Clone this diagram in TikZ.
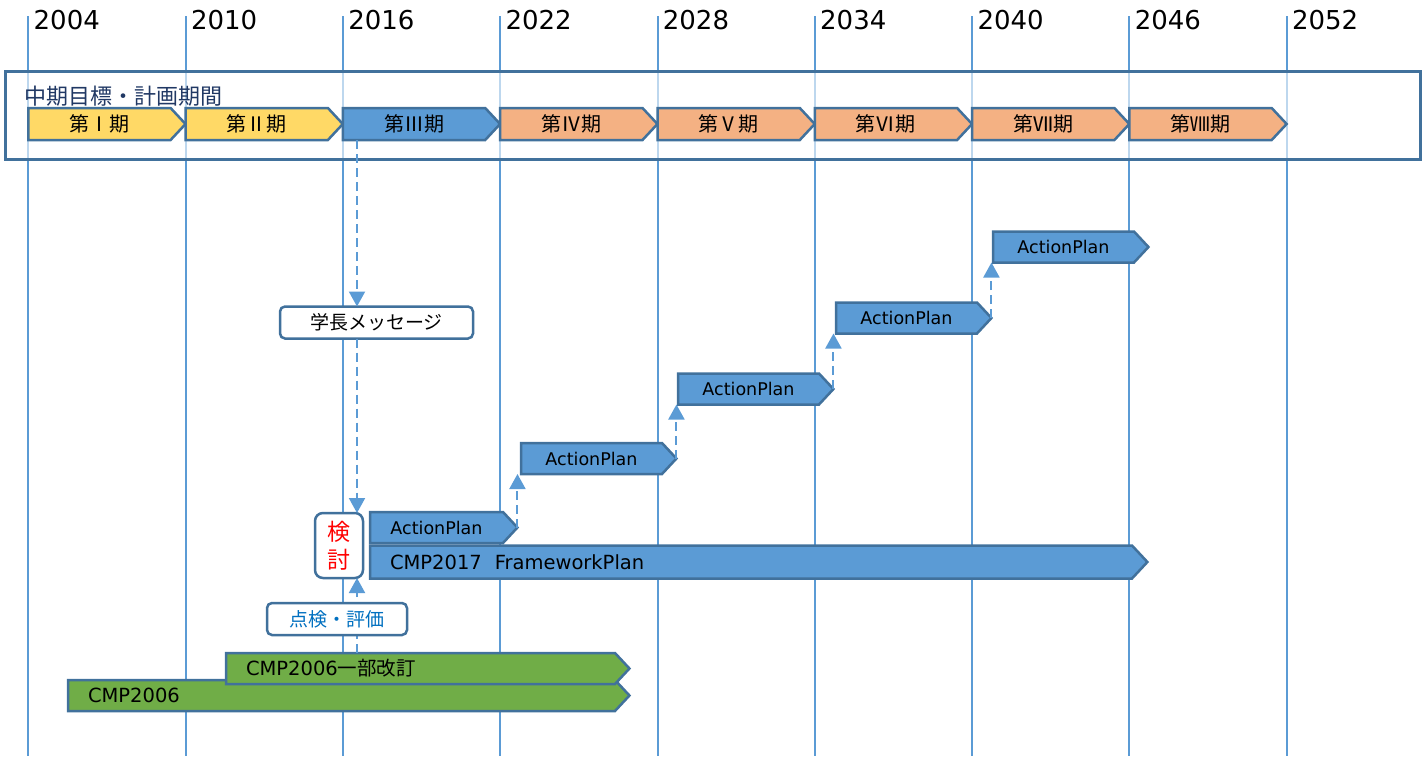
\documentclass[tikz,border=0pt]{standalone}
\usepackage{fontspec}
\setmainfont{DejaVu Sans}
\newfontfamily\jp{Noto Sans CJK JP}
\usetikzlibrary{shapes.symbols}
\usetikzlibrary{arrows.meta}

\definecolor{grid}{RGB}{91,155,213}
\definecolor{edge}{RGB}{65,113,156}
\definecolor{early}{RGB}{255,217,102}
\definecolor{late}{RGB}{244,177,131}
\definecolor{plan}{RGB}{91,155,213}
\definecolor{cmpgreen}{RGB}{112,173,71}
\definecolor{navy}{RGB}{32,56,100}
\definecolor{checkblue}{RGB}{0,112,192}

\tikzset{
  phase/.style={signal, signal to=east, signal pointer angle=94, draw=edge, line width=2.5pt,
    outer sep=0pt, inner ysep=0pt, inner xsep=0pt, minimum height=32pt, anchor=west, align=center},
  flow/.style={draw=grid, line width=2pt, dash pattern=on 9pt off 5pt,
    -{Triangle[width=16pt,length=15pt]}},
  note/.style={draw=edge, line width=2.5pt, fill=white, rounded corners=5pt, inner sep=0pt, outer sep=0pt}
}

\begin{document}
\begin{tikzpicture}[x=1pt,y=-1pt]
\useasboundingbox (0,0) rectangle (1425,756);
\foreach \k/\yr in {0/2004,1/2010,2/2016,3/2022,4/2028,5/2034,6/2040,7/2046,8/2052}{
  \draw[grid, line width=2pt] ({28.3+157.3*\k},16) -- ({28.3+157.3*\k},756);
  \node[anchor=west, inner sep=0pt, font=\fontsize{26}{30}\selectfont] (y\k) at ({33.5+157.3*\k},20.5) {\yr};
}
\node[draw=edge, line width=2.5pt, fill=white, fill opacity=0.6, minimum width=1415pt, minimum height=88pt,
  anchor=north west, inner sep=0pt] (frame) at (4,70) {};
\node[anchor=west, inner sep=0pt, text=navy, font=\jp\fontsize{22}{26}\selectfont] (title) at (24,96) {中期目標・計画期間};
\foreach \k/\c/\n in {1/early/Ⅰ,2/early/Ⅱ,3/plan/Ⅲ,4/late/Ⅳ,5/late/Ⅴ,6/late/Ⅵ,7/late/Ⅶ,8/late/Ⅷ}{
  \node[phase, fill=\c, text width=142.3pt, font=\jp\fontsize{20}{24}\selectfont] (p\k) at ({28.3+157.3*(\k-1)},124) {第{\n}期};
}
\coordinate (col) at (357,0);

\node[phase, fill=plan, text width=722pt, inner xsep=20pt, align=left, minimum height=33pt,
  font=\fontsize{19.5}{23}\selectfont] (fw) at (370,562) {CMP2017~~FrameworkPlan};
\node[phase, fill=plan, text width=133pt, minimum height=31pt, font=\fontsize{17.5}{21}\selectfont] (ap1) at (370,527.5) {ActionPlan};
\node[phase, fill=plan, text width=141pt, minimum height=31pt, font=\fontsize{17.5}{21}\selectfont] (ap2) at (521,458.5) {ActionPlan};
\node[phase, fill=plan, text width=141pt, minimum height=31pt, font=\fontsize{17.5}{21}\selectfont] (ap3) at (678,389) {ActionPlan};
\node[phase, fill=plan, text width=141pt, minimum height=31pt, font=\fontsize{17.5}{21}\selectfont] (ap4) at (836,318) {ActionPlan};
\node[phase, fill=plan, text width=141pt, minimum height=31pt, font=\fontsize{17.5}{21}\selectfont] (ap5) at (993,247) {ActionPlan};
\foreach \a/\b in {1/2,2/3,3/4,4/5}
  \draw[flow] (ap\a.east) -- (ap\a.east |- ap\b.south);

\node[phase, fill=cmpgreen, text width=507pt, inner xsep=20pt, align=left, minimum height=31pt,
  font=\fontsize{19.5}{23}\selectfont] (cmp) at (68,695.5) {CMP2006};
\node[phase, fill=cmpgreen, text width=349pt, inner xsep=20pt, align=left, minimum height=31pt,
  font=\fontsize{19.5}{23}\selectfont] (rev) at (226,668.5) {CMP2006{\jp 一部改訂}};

\node[note, minimum width=193pt, minimum height=32pt, font=\jp\fontsize{19}{23}\selectfont] (msg) at (376.5,322.5) {学長メッセージ};
\node[note, rounded corners=8pt, minimum width=48pt, minimum height=65pt, align=center, text=red,
  font=\jp\fontsize{23}{28}\selectfont] (kento) at (339,545.5) {検\\討};
\draw[flow] (p3.south -| col) -- (msg.north -| col);
\draw[flow] (msg.south -| col) -- (kento.north -| col);
\draw[flow] (rev.north -| col) -- (kento.south -| col);
\node[note, minimum width=140pt, minimum height=32pt, text=checkblue, font=\jp\fontsize{19}{23}\selectfont] (check) at (337,619) {点検・評価};
\end{tikzpicture}
\end{document}
